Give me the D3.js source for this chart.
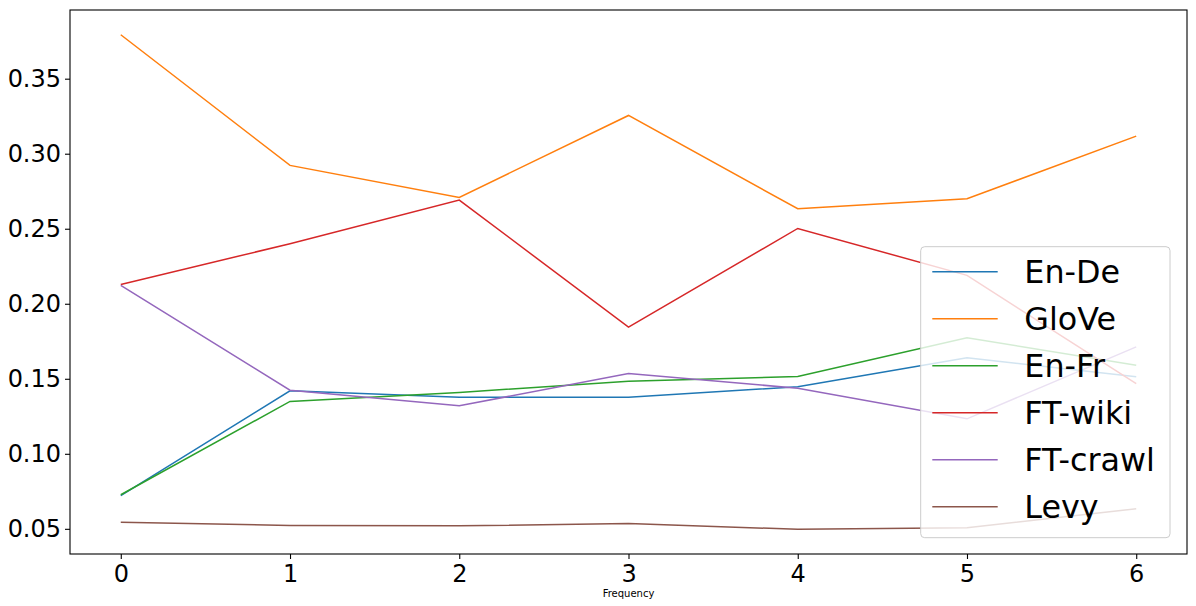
<!DOCTYPE html>
<html>
<head>
<meta charset="utf-8">
<script src="https://cdn.jsdelivr.net/npm/d3@7"></script>
<style>
  html, body { margin: 0; padding: 0; background: #fff; }
  svg { display: block; font-family: "DejaVu Sans", sans-serif; }
</style>
</head>
<body>
<svg id="chart" width="1196" height="606"></svg>
<script>
const categories = [0, 1, 2, 3, 4, 5, 6];
const seriesNames = ["En-De", "GloVe", "En-Fr", "FT-wiki", "FT-crawl", "Levy"];
const enDe    = [0.0722, 0.1420, 0.1377, 0.1377, 0.1447, 0.1640, 0.1513];
const glove   = [0.3793, 0.2922, 0.2709, 0.3255, 0.2633, 0.2700, 0.3117];
const enFr    = [0.0727, 0.1349, 0.1409, 0.1484, 0.1515, 0.1773, 0.1590];
const ftWiki  = [0.2129, 0.2400, 0.2691, 0.1844, 0.2502, 0.2189, 0.1467];
const ftCrawl = [0.2122, 0.1424, 0.1320, 0.1535, 0.1437, 0.1233, 0.1713];
const levy    = [0.0544, 0.0522, 0.0520, 0.0535, 0.0497, 0.0507, 0.0633];
const yTicks  = [0.05, 0.10, 0.15, 0.20, 0.25, 0.30, 0.35];
const xLabel  = "Frequency";

const seriesValues = [enDe, glove, enFr, ftWiki, ftCrawl, levy];
const colors = ["#1f77b4", "#ff7f0e", "#2ca02c", "#d62728", "#9467bd", "#8c564b"];

const svg = d3.select("#chart");
const L = 70, T = 10, R = 1187, B = 554;

// fit a font size so that a sample string has the target width
function fitSize(sample, targetWidth, base) {
  const t = svg.append("text").style("font-size", base + "px").text(sample);
  const w = t.node().getComputedTextLength();
  t.remove();
  const s = w > 0 ? base * targetWidth / w : base;
  return Math.max(base * 0.85, Math.min(base * 1.2, s));
}
const tickFS = fitSize("0.35", 53.4, 24);
const legendFS = fitSize("FT-crawl", 130.7, 30.6);
const labelFS = fitSize(xLabel, 51.7, 10);

const x = d3.scaleLinear().domain([-0.3, 6.3]).range([L, R]);
const allVals = seriesValues.flat();
const mn = d3.min(allVals), mx = d3.max(allVals), pad = (mx - mn) * 0.05;
const y = d3.scaleLinear().domain([mn - pad, mx + pad]).range([B, T]);

// lines
const line = d3.line().x((d, i) => x(categories[i])).y(d => y(d));
seriesValues.forEach((vals, i) => {
  svg.append("path")
    .attr("d", line(vals))
    .attr("fill", "none")
    .attr("stroke", colors[i])
    .attr("stroke-width", 1.5)
    .attr("stroke-linejoin", "miter");
});

// axes
const xAxis = svg.append("g").attr("transform", `translate(0,${B})`)
  .call(d3.axisBottom(x).tickValues(categories).tickFormat(d3.format("d")).tickSize(5).tickPadding(5).tickSizeOuter(0));
const yAxis = svg.append("g").attr("transform", `translate(${L},0)`)
  .call(d3.axisLeft(y).tickValues(yTicks).tickFormat(d3.format(".2f")).tickSize(5).tickPadding(4).tickSizeOuter(0));
[xAxis, yAxis].forEach(g => {
  g.select(".domain").remove();
  g.selectAll(".tick line").attr("stroke", "#000").attr("stroke-width", 1.1);
  g.selectAll(".tick text").attr("fill", "#000").style("font-size", tickFS + "px").style("font-family", "DejaVu Sans");
});
xAxis.selectAll(".tick text").attr("dy", "0.75em");

// frame
svg.append("rect")
  .attr("x", L).attr("y", T).attr("width", R - L).attr("height", B - T)
  .attr("fill", "none").attr("stroke", "#000").attr("stroke-width", 1.1);

// x label
svg.append("text")
  .attr("x", (L + R) / 2).attr("y", 597)
  .attr("text-anchor", "middle")
  .style("font-size", labelFS + "px")
  .attr("fill", "#000")
  .text(xLabel);

// legend
const lg = svg.append("g");
lg.append("rect")
  .attr("x", 920.7).attr("y", 246.7).attr("width", 249.3).attr("height", 291)
  .attr("rx", 4).attr("ry", 4)
  .attr("fill", "#fff").attr("fill-opacity", 0.8)
  .attr("stroke", "#cccccc").attr("stroke-width", 1);
seriesNames.forEach((name, i) => {
  const cy = 271.7 + i * 47;
  lg.append("line")
    .attr("x1", 932.3).attr("x2", 997.7).attr("y1", cy).attr("y2", cy)
    .attr("stroke", colors[i]).attr("stroke-width", 1.5);
  lg.append("text")
    .attr("x", 1024.3).attr("y", cy).attr("dy", "0.36em")
    .style("font-size", legendFS + "px")
    .attr("fill", "#000")
    .text(name);
});
</script>
</body>
</html>
